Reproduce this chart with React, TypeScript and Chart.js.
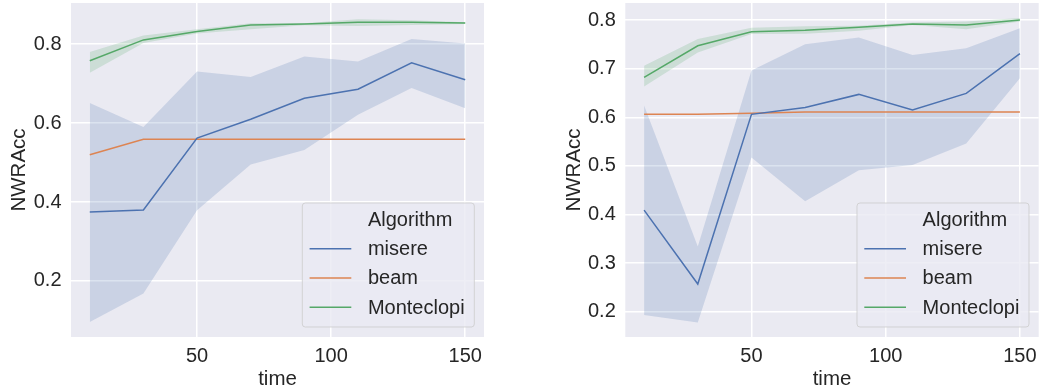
import React, { useEffect, useRef } from "react";
import { Chart, registerables } from "chart.js";

Chart.register(...registerables);

const times = [10, 30, 50, 70, 90, 110, 130, 150];
const xTicks = [50, 100, 150];
const seriesNames = ["misere", "beam", "Monteclopi"];
const legendTitle = "Algorithm";
const xLabel = "time";
const yLabel = "NWRAcc";

// left panel
const leftMisere = [0.375, 0.38, 0.562, 0.61, 0.663, 0.686, 0.753, 0.71];
const leftMisereHi = [0.651, 0.59, 0.731, 0.717, 0.769, 0.756, 0.813, 0.802];
const leftMisereLo = [0.096, 0.168, 0.379, 0.495, 0.532, 0.621, 0.689, 0.638];
const leftBeam = [0.52, 0.559, 0.559, 0.559, 0.559, 0.559, 0.559, 0.559];
const leftMonte = [0.758, 0.811, 0.832, 0.849, 0.851, 0.856, 0.856, 0.854];
const leftMonteHi = [0.78, 0.822, 0.838, 0.853, 0.853, 0.863, 0.861, 0.856];
const leftMonteLo = [0.728, 0.803, 0.827, 0.838, 0.848, 0.846, 0.849, 0.851];
const leftYTicks = [0.2, 0.4, 0.6, 0.8];

// right panel
const rightMisere = [0.409, 0.257, 0.606, 0.62, 0.647, 0.615, 0.649, 0.731];
const rightMisereHi = [0.624, 0.334, 0.696, 0.75, 0.764, 0.728, 0.742, 0.783];
const rightMisereLo = [0.193, 0.178, 0.517, 0.427, 0.491, 0.502, 0.546, 0.68];
const rightBeam = [0.606, 0.606, 0.608, 0.611, 0.611, 0.611, 0.611, 0.611];
const rightMonte = [0.682, 0.747, 0.776, 0.779, 0.785, 0.792, 0.79, 0.8];
const rightMonteHi = [0.706, 0.761, 0.784, 0.787, 0.788, 0.795, 0.797, 0.804];
const rightMonteLo = [0.663, 0.733, 0.771, 0.772, 0.778, 0.79, 0.781, 0.797];
const rightYTicks = [0.2, 0.3, 0.4, 0.5, 0.6, 0.7, 0.8];

const COLORS = ["#4C72B0", "#DD8452", "#55A868"];
const BANDS = ["rgba(76,114,176,0.2)", "rgba(221,132,82,0.2)", "rgba(85,168,104,0.2)"];
const FONT = "'Liberation Sans', Arial, sans-serif";
const TEXT = "#262626";

const pts = (arr: number[]) => arr.map((y, i) => ({ x: times[i], y }));

type PanelProps = {
  misere: number[];
  misereHi: number[];
  misereLo: number[];
  beam: number[];
  monte: number[];
  monteHi: number[];
  monteLo: number[];
  yTicks: number[];
  yMin: number;
  yMax: number;
  padLeft: number;
  padRight: number;
};

function Panel(p: PanelProps) {
  const ref = useRef<HTMLCanvasElement>(null);
  useEffect(() => {
    if (!ref.current) return;
    const bgPlugin = {
      id: "bg",
      beforeDraw(chart: any) {
        const { ctx, chartArea } = chart;
        ctx.save();
        ctx.fillStyle = "#EAEAF2";
        ctx.fillRect(chartArea.left, chartArea.top, chartArea.right - chartArea.left, chartArea.bottom - chartArea.top);
        ctx.restore();
      },
    };
    const legendPlugin = {
      id: "customLegend",
      afterDraw(chart: any) {
        const { ctx, chartArea } = chart;
        const w = 172;
        const h = 124;
        const right = chartArea.right - 9.7;
        const bottom = chartArea.bottom - 10;
        const left = right - w;
        const top = bottom - h;
        ctx.save();
        ctx.beginPath();
        const r = 3;
        ctx.moveTo(left + r, top);
        ctx.arcTo(right, top, right, bottom, r);
        ctx.arcTo(right, bottom, left, bottom, r);
        ctx.arcTo(left, bottom, left, top, r);
        ctx.arcTo(left, top, right, top, r);
        ctx.closePath();
        ctx.fillStyle = "rgba(234,234,242,0.8)";
        ctx.fill();
        ctx.strokeStyle = "rgba(204,204,204,0.8)";
        ctx.lineWidth = 1;
        ctx.stroke();
        ctx.font = `20px ${FONT}`;
        ctx.fillStyle = TEXT;
        ctx.textBaseline = "alphabetic";
        ctx.textAlign = "left";
        ctx.fillText(legendTitle, left + 65.6, top + 22.7);
        seriesNames.forEach((name, i) => {
          const base = top + 22.7 + 29.3 * (i + 1);
          ctx.beginPath();
          ctx.strokeStyle = COLORS[i];
          ctx.lineWidth = 1.5;
          ctx.moveTo(left + 7.3, base - 6.3);
          ctx.lineTo(left + 49, base - 6.3);
          ctx.stroke();
          ctx.fillStyle = TEXT;
          ctx.fillText(name, left + 65.6, base);
        });
        ctx.restore();
      },
    };
    const band = (data: number[], fill: any, color: string) => ({
      label: "band",
      data: pts(data),
      borderWidth: 0,
      borderColor: "rgba(0,0,0,0)",
      backgroundColor: color,
      pointRadius: 0,
      fill,
      order: 10,
    });
    const line = (data: number[], i: number) => ({
      label: seriesNames[i],
      data: pts(data),
      borderColor: COLORS[i],
      borderWidth: 1.5,
      pointRadius: 0,
      fill: false,
      order: 1,
    });
    const chart = new Chart(ref.current, {
      type: "line",
      data: {
        datasets: [
          band(p.misereLo, false, BANDS[0]),
          band(p.misereHi, "-1", BANDS[0]),
          band(p.monteLo, false, BANDS[2]),
          band(p.monteHi, "-1", BANDS[2]),
          line(p.misere, 0),
          line(p.beam, 1),
          line(p.monte, 2),
        ] as any,
      },
      options: {
        animation: false,
        responsive: false,
        layout: { padding: { left: p.padLeft, right: p.padRight, top: 3, bottom: 0 } },
        plugins: { legend: { display: false }, tooltip: { enabled: false } },
        scales: {
          x: {
            type: "linear",
            min: 3,
            max: 157,
            afterBuildTicks: (s: any) => {
              s.ticks = xTicks.map((v) => ({ value: v }));
            },
            afterFit: (s: any) => {
              s.height = 53;
              s.paddingLeft = 0;
              s.paddingRight = 0;
            },
            grid: { color: "#ffffff", lineWidth: 1.5, drawTicks: false },
            border: { display: false },
            ticks: {
              color: TEXT,
              font: { family: FONT, size: 20 },
              padding: 7,
              maxRotation: 0,
              callback: (v: any) => String(v),
            },
            title: {
              display: true,
              text: xLabel,
              color: TEXT,
              font: { family: FONT, size: 20.5, lineHeight: 1 },
              padding: { top: 1.8, bottom: 0 },
            },
          },
          y: {
            type: "linear",
            min: p.yMin,
            max: p.yMax,
            afterBuildTicks: (s: any) => {
              s.ticks = p.yTicks.map((v) => ({ value: v }));
            },
            afterFit: (s: any) => {
              s.width = 71;
              s.paddingTop = 0;
              s.paddingBottom = 0;
            },
            grid: { color: "#ffffff", lineWidth: 1.5, drawTicks: false },
            border: { display: false },
            ticks: {
              color: TEXT,
              font: { family: FONT, size: 20 },
              padding: 9.5,
              callback: (v: any) => Number(v).toFixed(1),
            },
            title: {
              display: true,
              text: yLabel,
              color: TEXT,
              font: { family: FONT, size: 20.5, lineHeight: 1 },
              padding: { top: 9.4, bottom: 0 },
            },
          },
        },
      } as any,
      plugins: [bgPlugin, legendPlugin],
    });
    return () => chart.destroy();
  }, []);
  return <canvas ref={ref} width={520} height={390} style={{ display: "block", width: 520, height: 390 }} />;
}

export default function App() {
  return (
    <div style={{ position: "fixed", left: 0, top: 0, width: 1040, height: 390, background: "#ffffff", display: "flex" }}>
      <Panel
        misere={leftMisere}
        misereHi={leftMisereHi}
        misereLo={leftMisereLo}
        beam={leftBeam}
        monte={leftMonte}
        monteHi={leftMonteHi}
        monteLo={leftMonteLo}
        yTicks={leftYTicks}
        yMin={0.058}
        yMax={0.9045}
        padLeft={0}
        padRight={36}
      />
      <Panel
        misere={rightMisere}
        misereHi={rightMisereHi}
        misereLo={rightMisereLo}
        beam={rightBeam}
        monte={rightMonte}
        monteHi={rightMonteHi}
        monteLo={rightMonteLo}
        yTicks={rightYTicks}
        yMin={0.148}
        yMax={0.835}
        padLeft={34.3}
        padRight={1.3}
      />
    </div>
  );
}
